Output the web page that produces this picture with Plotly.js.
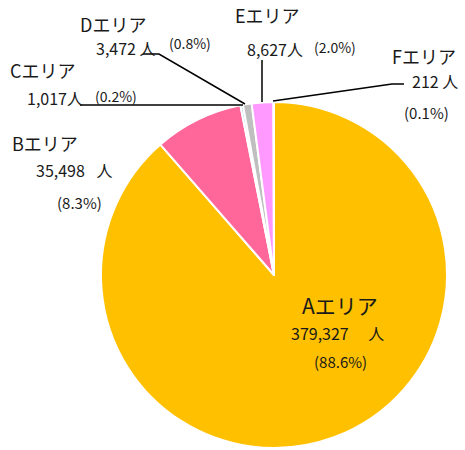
<!DOCTYPE html>
<html><head><meta charset="utf-8">
<script src="https://cdn.plot.ly/plotly-3.0.1.min.js"></script>
<style>html,body{margin:0;padding:0;background:#fff;}#chart{width:465px;height:450px;}</style>
</head><body><div id="chart"></div>
<script>
const categories = ["Aエリア", "Bエリア", "Cエリア", "Dエリア", "Eエリア", "Fエリア"];
const people = [379327, 35498, 1017, 3472, 8627, 212];
const percents = ["88.6%", "8.3%", "0.2%", "0.8%", "2.0%", "0.1%"];
const unit = "人";
const colors = ["#FFC000", "#FF6699", "#9DC3E6", "#BFBFBF", "#FF99FF", "#F2F2F2"];

const W = 465, H = 450;
const px = x => x / W, py = y => 1 - y / H;
const FONT = "Noto Sans CJK JP, Noto Sans, sans-serif";
const TXT = "#1a1a1a";
const fmt = v => v.toLocaleString("en-US");

function ann(text, x, y, size) {
  return {text: text, x: px(x), y: py(y), xref: "paper", yref: "paper",
    xanchor: "center", yanchor: "middle", showarrow: false,
    borderpad: 0, borderwidth: 0,
    font: {family: FONT, size: size, color: TXT}};
}

const annotations = [
  ann(categories[0], 340, 305, 21),
  ann(fmt(people[0]) + "\u3000 " + unit, 337, 333, 16),
  ann("(" + percents[0] + ")", 340, 361, 15),

  ann(categories[1], 45, 143, 18),
  ann(fmt(people[1]) + "\u2002 " + unit, 74, 170, 16),
  ann("(" + percents[1] + ")", 79, 202, 15),

  ann(categories[2], 42, 70, 18),
  ann(fmt(people[2]) + unit, 55, 98, 16),
  ann("(" + percents[2] + ")", 116, 96, 14),

  ann(categories[3], 113, 24, 18),
  ann(fmt(people[3]) + " " + unit, 126, 48, 16),
  ann("(" + percents[3] + ")", 190, 43, 14),

  ann(categories[4], 267, 15, 18),
  ann(fmt(people[4]) + unit, 275, 49, 16),
  ann("(" + percents[4] + ")", 335, 47, 14),

  ann(categories[5], 424, 56, 18),
  ann(fmt(people[5]) + " " + unit, 435, 81, 16),
  ann("(" + percents[5] + ")", 426, 113, 15)
];

function pathPx(pts) {
  return pts.map((p, i) => (i ? "L" : "M") + px(p[0]) + "," + py(p[1])).join(" ");
}
const lineStyle = {color: "#000000", width: 1.5};
const shapes = [
  {type: "path", xref: "paper", yref: "paper", path: pathPx([[80,105],[243,105]]), line: lineStyle},
  {type: "path", xref: "paper", yref: "paper", path: pathPx([[143,54],[159,54],[245,104]]), line: lineStyle},
  {type: "path", xref: "paper", yref: "paper", path: pathPx([[262,60],[262,102]]), line: lineStyle},
  {type: "path", xref: "paper", yref: "paper", path: pathPx([[273,101],[392,84],[404,84]]), line: lineStyle}
];

const cx = 274, cy = 275, r = 173;
const trace = {
  type: "pie", labels: categories, values: people, sort: false,
  direction: "clockwise", rotation: 0, textinfo: "none", hoverinfo: "none",
  showlegend: false, automargin: false,
  marker: {colors: colors, line: {color: "#FFFFFF", width: 2}},
  domain: {x: [px(cx - r), px(cx + r)], y: [py(cy + r), py(cy - r)]}
};

Plotly.newPlot("chart", [trace], {
  width: W, height: H, margin: {l: 0, r: 0, t: 0, b: 0},
  paper_bgcolor: "#FFFFFF", showlegend: false,
  annotations: annotations, shapes: shapes
}, {staticPlot: true});
</script></body></html>
